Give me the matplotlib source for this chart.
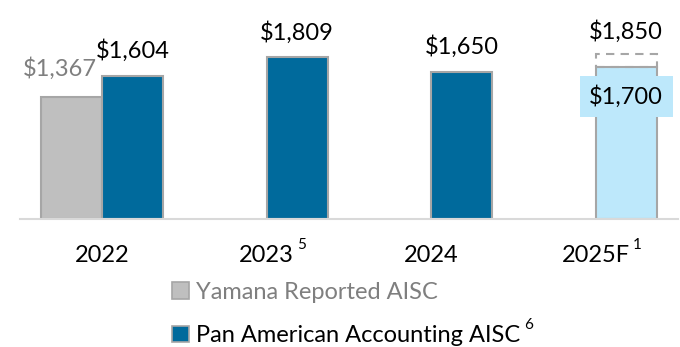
import matplotlib.pyplot as plt
from matplotlib.patches import Patch

years = ["2022", "2023", "2024", "2025F"]
year_notes = ["", "5", "", "1"]
yamana_aisc = [1367, None, None, None]
pan_american_aisc = [1604, 1809, 1650, 1700]
forecast_high = 1850

BLUE = "#006a9c"
GRAY = "#bfbfbf"
EDGE = "#a6a6a6"
LIGHT_BLUE = "#bde8fb"
TEXT_GRAY = "#7f7f7f"
FS = 17

plt.rcParams["font.family"] = ["Lato", "DejaVu Sans"]

fig = plt.figure(figsize=(6.8, 3.47), dpi=100)
ax = fig.add_axes([20 / 680, 128 / 347, 658 / 680, 219 / 347])

w = 0.37
x = list(range(len(years)))

for i, v in enumerate(yamana_aisc):
    if v is None:
        continue
    ax.bar(i - w / 2, v, w, color=GRAY, edgecolor=EDGE, linewidth=1.5)
    ax.annotate(f"${v:,}", (i, v), xytext=(-4, 12), textcoords="offset points",
                ha="right", va="bottom", fontsize=FS, color=TEXT_GRAY)

for i, v in enumerate(pan_american_aisc):
    forecast = years[i].endswith("F")
    ax.bar(i + w / 2, v, w, color=LIGHT_BLUE if forecast else BLUE,
           edgecolor=EDGE, linewidth=1.5)
    if forecast:
        # guidance range shown as a dashed box above the low end
        ax.bar(i + w / 2, forecast_high - v, w, bottom=v, fill=False,
               edgecolor=EDGE, linewidth=1.5, linestyle=(0, (4, 3)))
        ax.annotate(f"${forecast_high:,}", (i + w / 2, forecast_high), xytext=(0, 8),
                    textcoords="offset points", ha="center", va="bottom", fontsize=FS)
        ax.annotate(f"${v:,}", (i + w / 2, v), xytext=(0, -21), textcoords="offset points",
                    ha="center", va="center", fontsize=FS,
                    bbox=dict(boxstyle="square,pad=0.4", fc=LIGHT_BLUE, ec="none"))
    else:
        ax.annotate(f"${v:,}", (i + w / 2, v), xytext=(0, 10), textcoords="offset points",
                    ha="center", va="bottom", fontsize=FS)

ax.set_xlim(-0.5, 3.5)
ax.set_ylim(0, 2452)
for s in ["top", "left", "right"]:
    ax.spines[s].set_visible(False)
ax.spines["bottom"].set_color("#d9d9d9")
ax.spines["bottom"].set_linewidth(1.5)
ax.set_yticks([])
ax.set_xticks(x)
ax.set_xticklabels(years, fontsize=FS)
ax.tick_params(axis="x", length=0, pad=19)

handles = [Patch(facecolor=GRAY, edgecolor=EDGE, linewidth=1.2),
           Patch(facecolor=BLUE, edgecolor=EDGE, linewidth=1.2)]
leg = fig.legend(handles, ["Yamana Reported AISC", "Pan American Accounting AISC"],
                 loc="upper left", bbox_to_anchor=(172 / 680, 1 - 282 / 347),
                 frameon=False, fontsize=FS, handlelength=0.7, handleheight=0.7,
                 handletextpad=0.3, labelspacing=0.95, borderaxespad=0, borderpad=0,
                 labelcolor=[TEXT_GRAY, "black"])

# footnote markers sit just right of their labels
fig.canvas.draw()
r = fig.canvas.get_renderer()
inv = fig.transFigure.inverted()
for lbl, note in zip(ax.get_xticklabels(), year_notes):
    if note:
        bb = lbl.get_window_extent(r)
        x0, y0 = inv.transform((bb.x1 + 3, bb.y1))
        fig.text(x0, y0, note, fontsize=11, ha="left", va="center")
bb = leg.get_texts()[1].get_window_extent(r)
x0, y0 = inv.transform((bb.x1 + 4, bb.y1))
fig.text(x0, y0, "6", fontsize=11, ha="left", va="center")

fig.savefig("out.png", dpi=100)
